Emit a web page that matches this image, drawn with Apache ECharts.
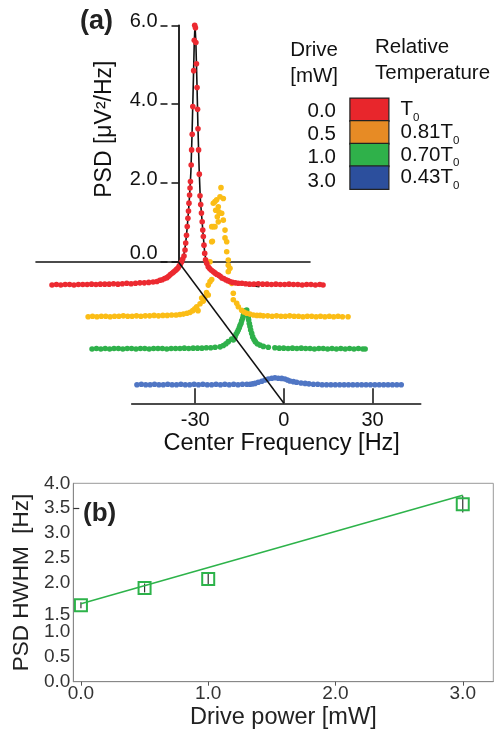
<!DOCTYPE html>
<html>
<head>
<meta charset="utf-8">
<script src="https://cdn.jsdelivr.net/npm/echarts/dist/echarts.min.js"></script>
<style>
html,body{margin:0;padding:0;background:#fff;}
#chart{width:496px;height:738px;}
</style>
</head>
<body>
<div id="chart"></div>
<script>
// ---------------- DATA ----------------
// Panel (a): PSD traces, [frequency offset from trace center (Hz), PSD (µV²/Hz)]
const driveLabels = ['0.0', '0.5', '1.0', '3.0'];          // drive power (mW)
const relTempCoef = ['', '0.81', '0.70', '0.43'];           // relative temperature (× T0)
const traceNames = ['0.0 mW', '0.5 mW', '1.0 mW', '3.0 mW'];

const redTrace = [
  [-48.8,0.00],[-47.3,0.01],[-45.8,0.00],[-44.3,0.01],[-42.8,0.01],[-41.3,0.00],[-39.8,0.01],[-38.3,0.01],
  [-36.8,0.01],[-35.3,0.02],[-33.8,0.01],[-32.3,0.02],[-30.8,0.02],[-29.3,0.02],[-27.8,0.03],[-26.3,0.02],
  [-24.8,0.03],[-23.3,0.04],[-21.8,0.03],[-20.3,0.04],[-18.8,0.05],[-17.3,0.05],[-15.8,0.06],[-14.3,0.07],
  [-13.0,0.08],[-12.0,0.11],[-11.2,0.12],[-10.4,0.15],[-9.6,0.17],[-9.0,0.20],[-8.4,0.24],[-7.8,0.27],
  [-7.3,0.30],[-6.8,0.33],[-6.3,0.36],[-5.8,0.39],[-5.4,0.44],[-5.0,0.48],[-4.6,0.53],[-4.2,0.60],
  [-3.75,0.67],[-3.41,0.81],[-3.17,0.97],[-2.90,1.15],[-2.65,1.35],[-2.42,1.54],[-2.22,1.71],[-2.05,1.89],
  [-1.85,2.08],[-1.70,2.24],[-1.55,2.39],[-1.30,2.77],[-1.15,3.12],[-0.95,3.48],[-0.75,4.12],[-0.45,4.95],
  [-0.25,5.65],[-0.10,6.00],[0.15,5.94],[0.30,5.60],[0.50,5.11],[0.70,4.56],[0.88,4.06],[1.02,3.61],
  [1.22,3.12],[1.47,2.56],[1.71,2.06],[1.95,1.86],[2.20,1.66],[2.45,1.46],[2.65,1.27],[2.85,1.12],
  [3.07,0.92],[3.31,0.73],[3.60,0.58],[4.0,0.50],[4.5,0.42],[5.0,0.38],[5.6,0.34],[6.2,0.31],
  [6.8,0.28],[7.4,0.25],[8.0,0.23],[8.6,0.20],[9.2,0.16],[9.8,0.15],[10.5,0.12],[11.2,0.10],
  [11.9,0.08],[12.8,0.06],[13.8,0.05],[14.8,0.04],[16.0,0.04],[17.3,0.03],[18.6,0.02],[20.1,0.02],
  [21.6,0.03],[23.1,0.02],[24.6,0.02],[26.1,0.01],[27.6,0.02],[29.1,0.01],[30.6,0.01],[32.1,0.02],
  [33.6,0.01],[35.1,0.01],[36.6,0.00],[38.1,0.01],[39.6,0.01],[41.1,0.00],[42.6,0.01],[43.7,0.00]
];
const redFit = [
  [-6.5,0.30],[-5.5,0.42],[-4.6,0.55],[-3.8,0.70],[-3.2,0.95],[-2.7,1.30],[-2.2,1.72],[-1.8,2.12],
  [-1.4,2.62],[-1.0,3.50],[-0.6,4.60],[-0.25,5.60],[0,6.00],[0.3,5.60],[0.7,4.56],[1.0,3.65],
  [1.4,2.70],[1.8,2.00],[2.3,1.57],[2.8,1.15],[3.3,0.75],[3.8,0.55],[4.6,0.40],[6.2,0.28],
  [8.0,0.18],[10.0,0.11],[13.0,0.06],[16.0,0.02],[22.0,-0.04]
];
const yellowTrace = [
  [-45,0.00],[-43.5,0.01],[-42,0.00],[-40.5,0.01],[-39,0.01],[-37.5,0.00],[-36,0.01],[-34.5,0.01],
  [-33,0.02],[-31.5,0.01],[-30,0.01],[-28.5,0.02],[-27,0.01],[-25.5,0.02],[-24,0.02],[-22.5,0.03],
  [-21,0.02],[-19.5,0.03],[-18,0.03],[-16.5,0.04],[-15,0.04],[-13.7,0.05],[-12.5,0.06],[-11.3,0.08],
  [-10.2,0.10],[-9.3,0.14],[-8.6,0.18],[-7.95,0.23],[-7.5,0.14],[-6.8,0.30],[-6.25,0.43],[-5.7,0.36],
  [-5.1,0.46],[-4.6,0.56],[-4.0,0.50],[-4.0,0.73],[-3.41,0.81],[-2.83,0.86],[-3.41,1.27],[-2.83,1.73],
  [-2.6,1.74],[-2.29,2.08],[-2.83,2.08],[-1.71,2.08],[-2.29,2.62],[-1.71,2.66],[-1.47,2.46],[-1.13,2.70],
  [-0.92,2.31],[-0.58,2.19],[-0.58,2.54],[-0.40,2.42],[0,2.39],[0,2.77],[0.34,2.98],[0.58,2.39],
  [1.13,2.73],[1.13,2.23],[1.71,2.00],[1.71,1.82],[2.29,1.73],[2.29,1.50],[2.83,1.31],[2.83,1.19],
  [3.41,1.12],[2.83,1.04],[4.0,0.77],[4.54,0.54],[4.54,0.39],[5.7,0.31],[6.25,0.23],[7.4,0.15],
  [8.2,0.11],[9.1,0.08],[10.2,0.06],[11.4,0.04],[12.6,0.03],[13.7,0.03],[14.8,0.02],[16.3,0.02],
  [17.8,0.01],[19.3,0.02],[20.8,0.01],[22.3,0.01],[23.8,0.02],[25.3,0.01],[26.8,0.01],[28.3,0.00],
  [29.8,0.01],[31.3,0.01],[32.8,0.00],[34.3,0.01],[35.8,0.00],[37.3,0.01],[38.8,0.00],[40.3,0.01],
  [41.8,0.00],[43.7,0.00]
];
const greenTrace = [
  [-52.2,0.00],[-50.7,0.01],[-49.2,0.00],[-47.7,0.01],[-46.2,0.00],[-44.7,0.01],[-43.2,0.01],[-41.7,0.00],
  [-40.2,0.01],[-38.7,0.01],[-37.2,0.00],[-35.7,0.01],[-34.2,0.01],[-32.7,0.00],[-31.2,0.01],[-29.7,0.01],
  [-28.2,0.01],[-26.7,0.00],[-25.2,0.01],[-23.7,0.01],[-22.2,0.01],[-20.7,0.02],[-19.2,0.01],[-17.7,0.02],
  [-16.2,0.02],[-14.7,0.02],[-13.2,0.03],[-11.7,0.03],[-10.2,0.04],[-8.5,0.05],[-7.4,0.08],[-6.5,0.12],
  [-5.7,0.17],[-4.54,0.23],[-4.0,0.21],[-3.41,0.28],[-3.07,0.34],[-2.63,0.39],[-2.29,0.44],[-1.95,0.49],
  [-1.71,0.54],[-1.37,0.59],[-1.13,0.65],[-0.78,0.71],[-0.58,0.77],[-0.24,0.82],[0.10,0.88],[0.58,0.90],
  [0.79,0.82],[1.13,0.75],[1.25,0.67],[1.47,0.59],[1.71,0.52],[1.94,0.44],[2.29,0.36],[2.63,0.28],
  [3.07,0.22],[3.52,0.17],[4.2,0.12],[5.1,0.09],[6.25,0.06],[7.95,0.04],[10.2,0.03],[11.7,0.02],
  [13.2,0.02],[14.7,0.01],[16.2,0.02],[17.7,0.01],[19.2,0.02],[20.7,0.01],[22.2,0.01],[23.7,0.00],
  [25.2,0.01],[26.7,0.01],[28.2,0.00],[29.7,0.01],[31.2,0.00],[32.7,0.01],[34.2,0.00],[35.7,0.01],
  [37.2,0.00],[38.7,0.01],[40.2,0.00],[41.0,0.00]
];
const blueTrace = [
  [-47.8,0.00],[-46.3,0.01],[-44.8,0.00],[-43.3,0.00],[-41.8,0.01],[-40.3,0.00],[-38.8,0.00],[-37.3,0.01],
  [-35.8,0.00],[-34.3,0.00],[-32.8,0.01],[-31.3,0.00],[-29.8,0.00],[-28.3,0.01],[-26.8,0.00],[-25.3,0.01],
  [-23.8,0.00],[-22.3,0.00],[-20.8,0.01],[-19.3,0.00],[-17.8,0.01],[-16.3,0.00],[-14.8,0.01],[-13.3,0.00],
  [-11.8,0.01],[-10.3,0.01],[-9.2,0.01],[-8.3,0.02],[-7.5,0.03],[-6.4,0.055],[-5.2,0.08],[-4.1,0.11],
  [-3.0,0.13],[-1.8,0.15],[-0.7,0.16],[0.44,0.15],[1.6,0.145],[2.7,0.13],[3.6,0.11],[4.4,0.085],
  [5.6,0.07],[6.7,0.055],[8.2,0.04],[9.6,0.03],[10.9,0.02],[12.4,0.01],[13.9,0.01],[15.4,0.00],
  [16.9,0.00],[18.4,0.00],[19.9,0.00],[21.4,0.00],[22.9,0.00],[24.4,0.00],[25.9,0.00],[27.4,0.00],
  [28.9,0.00],[30.4,0.00],[31.9,0.00],[33.4,0.00],[34.9,0.00],[36.4,0.00],[37.9,0.00],[39.4,0.00],
  [40.9,0.00],[42.4,0.00]
];
const traces = [redTrace, yellowTrace, greenTrace, blueTrace];

// Axis ticks
const psdTicks = [0, 2, 4, 6];
const freqTicks = [-30, 0, 30];

// Panel (b): PSD HWHM vs drive power
const drivePower = [0.0, 0.5, 1.0, 3.0];
const hwhm = [1.54, 1.89, 2.07, 3.58];
const hwhmErr = [0.06, 0.09, 0.10, 0.17];
const fitDrive = [0.0, 3.0];
const fitHwhm = [1.57, 3.76];
const driveTicks = [0, 1, 2, 3];

// ---------------- LAYOUT / STYLE ----------------
const FONT = 'Liberation Sans, Arial, Helvetica, sans-serif';
const dotColors = ['#ec2a31', '#fbbd16', '#2fb14b', '#5076c4'];
const legendColors = ['#e8262c', '#e78b25', '#2fb14a', '#2c4f9d'];
const HZ_PX = 2.93, PSD_PX = 43.3;
const F_MIN = -56, F_MAX = 48, P_MIN = -0.2, P_MAX = 6.2;
const traceCenterPx = [195, 220, 245, 277];
const traceBasePx = [285, 316.7, 349, 384.7];
const LEG_LEFT = 349.3, LEG_TOP = 99.3, LEG_W = 39, LEG_H = 23.35, LEG_TEXT_H = 27;
const greenB = '#2db34a';
const DOT = 5.6;

const grids = [], xAxes = [], yAxes = [];
for (let i = 0; i < 4; i++) {
  grids.push({
    left: traceCenterPx[i] + F_MIN * HZ_PX,
    width: (F_MAX - F_MIN) * HZ_PX,
    top: traceBasePx[i] - P_MAX * PSD_PX,
    height: (P_MAX - P_MIN) * PSD_PX,
    outerBoundsMode: 'none'
  });
  xAxes.push({gridIndex: i, type: 'value', min: F_MIN, max: F_MAX, show: false});
  yAxes.push({gridIndex: i, type: 'value', min: P_MIN, max: P_MAX, show: false});
}
// grid 4: PSD axis (back plane)
grids.push({left: 36, width: 274, top: 25.3, height: 236.7, outerBoundsMode: 'none'});
xAxes.push({gridIndex: 4, type: 'value', min: -142.5, max: 131.5,
  axisLine: {show: true, onZero: false, lineStyle: {color: '#111', width: 1.6}},
  axisTick: {show: false}, axisLabel: {show: false}, splitLine: {show: false}});
yAxes.push({gridIndex: 4, type: 'value', min: 0, max: 6, interval: 2, offset: -142.5,
  axisLine: {show: true, onZero: false, lineStyle: {color: '#111', width: 1.8}},
  axisTick: {show: true, length: 7, lineStyle: {color: '#111', width: 1.5}},
  axisLabel: {margin: 21, color: '#111', fontSize: 20, fontFamily: FONT,
    formatter: v => v === 0 ? '{z|0.0}' : '{n|' + v.toFixed(1) + '}',
    rich: {n: {fontSize: 20, fontFamily: FONT, color: '#111', padding: [0, 0, 8, 0]},
           z: {fontSize: 20, fontFamily: FONT, color: '#111', padding: [0, 0, 18, 0]}}},
  splitLine: {show: false},
  name: 'PSD [μV²/Hz]', nameLocation: 'middle', nameGap: 62,
  nameTextStyle: {fontSize: 23, color: '#111', fontFamily: FONT, padding: [0, 0, 0, 29]}});
yAxes.push({gridIndex: 4, type: 'value', min: 0, max: 6, interval: 2, offset: -142.5,
  axisLine: {show: false, onZero: false},
  axisTick: {show: true, inside: true, length: 7, lineStyle: {color: '#111', width: 1.5}},
  axisLabel: {show: false}, splitLine: {show: false}});
// grid 5: front center-frequency axis
grids.push({left: 131.7, width: 289, top: 300, height: 103.3, outerBoundsMode: 'none'});
xAxes.push({gridIndex: 5, type: 'value', min: -51.5, max: 46.3,
  axisLine: {show: true, onZero: false, lineStyle: {color: '#111', width: 1.6}},
  axisTick: {show: true, inside: true, length: 15, customValues: freqTicks, lineStyle: {color: '#111', width: 1.5}},
  axisLabel: {customValues: freqTicks, margin: 7, fontSize: 20, color: '#111', fontFamily: FONT},
  splitLine: {show: false},
  name: 'Center Frequency [Hz]', nameLocation: 'middle', nameGap: 24,
  nameTextStyle: {fontSize: 23.5, color: '#111', fontFamily: FONT, padding: [0, 0, 0, 11]}});
yAxes.push({gridIndex: 5, type: 'value', min: 0, max: 1, show: false});
// grid 6: panel (b)
grids.push({left: 73.3, top: 483.3, width: 420, height: 198.4, show: true,
  borderColor: '#999', borderWidth: 1, backgroundColor: 'transparent', outerBoundsMode: 'none'});
xAxes.push({gridIndex: 6, type: 'value', min: -0.06, max: 3.24,
  axisLine: {show: true, onZero: false, lineStyle: {color: '#888', width: 1}},
  axisTick: {show: true, length: 4, customValues: driveTicks, lineStyle: {color: '#555'}},
  axisLabel: {customValues: driveTicks, margin: 3, fontSize: 19, color: '#333', fontFamily: FONT,
    formatter: v => v.toFixed(1)},
  splitLine: {show: false},
  name: 'Drive power [mW]', nameLocation: 'middle', nameGap: 24,
  nameTextStyle: {fontSize: 23.5, color: '#222', fontFamily: FONT}});
yAxes.push({gridIndex: 6, type: 'value', min: 0, max: 4, interval: 0.5,
  axisLine: {show: true, onZero: false, lineStyle: {color: '#888', width: 1}},
  axisTick: {show: true, inside: true, length: 6, customValues: [3.5], lineStyle: {color: '#333', width: 1.2}},
  axisLabel: {margin: 3, fontSize: 19, color: '#333', fontFamily: FONT,
    formatter: v => v === 1.5 ? '{low|1.5}' : '{n|' + v.toFixed(1) + '}',
    rich: {n: {fontSize: 19, color: '#333', fontFamily: FONT},
           low: {fontSize: 19, color: '#333', fontFamily: FONT, padding: [14, 0, 0, 0]}}},
  splitLine: {show: false},
  name: 'PSD HWHM  [Hz]', nameLocation: 'middle', nameGap: 39,
  nameTextStyle: {fontSize: 22.5, color: '#222', fontFamily: FONT}});

const series = [];
[3, 2, 1].forEach(i => series.push({
  type: 'scatter', name: traceNames[i], xAxisIndex: i, yAxisIndex: i, data: traces[i],
  symbol: 'circle', symbolSize: DOT, itemStyle: {color: dotColors[i], opacity: 1}, silent: true, z: 2
}));
series.push({type: 'line', name: 'Lorentzian fit', xAxisIndex: 0, yAxisIndex: 0, data: redFit,
  showSymbol: false, symbol: 'none', lineStyle: {color: '#111', width: 1.6}, silent: true, z: 3});
series.push({type: 'scatter', name: traceNames[0], xAxisIndex: 0, yAxisIndex: 0, data: traces[0],
  symbol: 'circle', symbolSize: DOT, itemStyle: {color: dotColors[0], opacity: 1}, silent: true, z: 4});
// panel b
series.push({type: 'line', name: 'linear fit', xAxisIndex: 6, yAxisIndex: 7,
  data: fitDrive.map((d, i) => [d, fitHwhm[i]]), showSymbol: false, symbol: 'none',
  lineStyle: {color: greenB, width: 1.5}, silent: true});
series.push({type: 'custom', name: 'error', xAxisIndex: 6, yAxisIndex: 7, silent: true,
  data: drivePower.map((d, i) => [d, hwhm[i], hwhmErr[i]]),
  renderItem: (params, api) => {
    const x = api.value(0), y = api.value(1), e = api.value(2);
    const a = api.coord([x, y - e]), b = api.coord([x, y + e]);
    return {type: 'line', shape: {x1: a[0], y1: a[1], x2: b[0], y2: b[1]},
      style: {stroke: '#333', lineWidth: 1.2}};
  }});
series.push({type: 'scatter', name: 'HWHM', xAxisIndex: 6, yAxisIndex: 7,
  data: drivePower.map((d, i) => [d, hwhm[i]]), symbol: 'rect', symbolSize: 12,
  itemStyle: {color: 'rgba(0,0,0,0)', borderColor: greenB, borderWidth: 2, opacity: 1}, silent: true});

const legendRich = {
  m: {fontSize: 20.5, color: '#111', fontFamily: FONT},
  s: {fontSize: 11.5, color: '#111', fontFamily: FONT, padding: [16, 0, 0, 0]}
};

const graphic = [
  {type: 'text', left: 80, top: 8, style: {text: '(a)', font: 'bold 27px ' + FONT, fill: '#222'}},
  {type: 'text', left: 83, top: 501, style: {text: '(b)', font: 'bold 26px ' + FONT, fill: '#222'}},
  {type: 'text', x: 338, y: 63, style: {text: 'Drive\n[mW]', font: '20.5px ' + FONT, fill: '#111',
    align: 'right', verticalAlign: 'middle', lineHeight: 26}},
  {type: 'text', x: 375, y: 60.5, style: {text: 'Relative\nTemperature', font: '20.5px ' + FONT, fill: '#111',
    align: 'left', verticalAlign: 'middle', lineHeight: 26}}
];
driveLabels.forEach((d, i) => graphic.push({type: 'text', x: 336, y: LEG_TOP + LEG_H * (i + 0.5),
  style: {text: d, font: '20.5px ' + FONT, fill: '#111', align: 'right', verticalAlign: 'middle'}}));

const option = {
  animation: false,
  backgroundColor: '#fff',
  textStyle: {fontFamily: FONT},
  grid: grids, xAxis: xAxes, yAxis: yAxes,
  legend: {
    data: traceNames.map((n, i) => ({name: n,
      itemStyle: {color: legendColors[i], opacity: 1, borderColor: '#222', borderWidth: 1.2}})),
    orient: 'vertical', left: LEG_LEFT, top: LEG_TOP - (LEG_TEXT_H - LEG_H) / 2,
    itemWidth: LEG_W, itemHeight: LEG_H, itemGap: LEG_H - LEG_TEXT_H, padding: 0,
    icon: 'rect', selectedMode: false,
    formatter: name => {
      const i = traceNames.indexOf(name);
      return '{m|' + relTempCoef[i] + 'T}{s|0}';
    },
    textStyle: {color: '#111', fontSize: 20.5, padding: [0, 0, 0, 6.7], rich: legendRich}
  },
  graphic: graphic,
  series: series
};

const chart = echarts.init(document.getElementById('chart'), null, {renderer: 'canvas'});
chart.setOption(option);
// depth axis: from PSD-axis origin to the 0 Hz point of the front axis
const o = chart.convertToPixel({gridIndex: 4}, [0, 0]);
const z = chart.convertToPixel({gridIndex: 5}, [0, 0]);
if (o && z) {
  graphic.push({type: 'line', z: 100, shape: {x1: o[0], y1: o[1], x2: z[0], y2: z[1]},
    style: {stroke: '#111', lineWidth: 1.5}});
  chart.setOption({graphic: graphic});
}
</script>
</body>
</html>
